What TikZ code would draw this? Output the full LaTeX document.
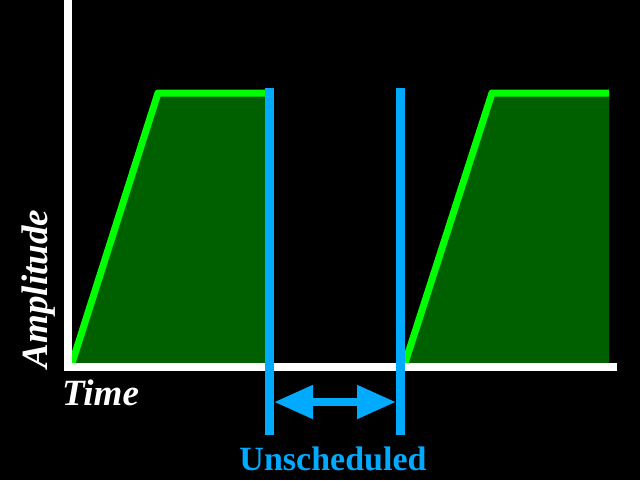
\documentclass[tikz,border=0pt]{standalone}
\usepackage{fontspec}
\setmainfont{Liberation Serif}
\usetikzlibrary{arrows.meta,positioning}

\definecolor{pulsegreen}{RGB}{0,255,0}
\definecolor{pulsefill}{RGB}{0,96,0}
\definecolor{gapblue}{RGB}{0,170,255}

\begin{document}
\begin{tikzpicture}[
		x=1pt, y=-1pt,
		axis/.style={draw=white, line width=8pt, line join=miter},
		pulse/.style={fill=pulsefill},
		edge/.style={draw=pulsegreen, line width=7pt, line join=round},
		marker/.style={draw=gapblue, line width=9pt},
		gaparrow/.style={draw=gapblue, line width=8pt, {Triangle[length=39pt,width=32pt]}-{Triangle[length=39pt,width=32pt]}},
		label/.style={text=white, font=\fontsize{37}{37}\selectfont\bfseries\itshape, inner sep=0pt},
	]
		\fill[black] (0,0) rectangle (640,480);
		\useasboundingbox (0,0) rectangle (640,480);

		\coordinate (top) at (67.5,0);
		\coordinate (origin) at (67.5,367);
		\coordinate (xend) at (617,367);

		% first pulse
		\coordinate (a0) at (72,363);
		\coordinate (a1) at (158,93);
		\coordinate (a2) at (269,93);
		\fill[pulse] (a0) -- (a1) -- (a2) -- (269,363) -- cycle;
		\draw[edge] (a0) -- (a1) -- (266,93);

		% second pulse
		\coordinate (b0) at (405,363);
		\coordinate (b1) at (492,93);
		\coordinate (b2) at (609,93);
		\fill[pulse] (b0) -- (b1) -- (b2) -- (609,363) -- cycle;
		\draw[edge] (b0) -- (b1) -- (b2);

		\draw[axis] (top) -- (origin) -- (xend);

		% gap markers
		\coordinate (gl top) at (269.5,88);
		\coordinate (gl bot) at (269.5,435);
		\coordinate (gr top) at (400.5,88);
		\coordinate (gr bot) at (400.5,435);
		\draw[marker] (gl top) -- (gl bot);
		\draw[marker] (gr top) -- (gr bot);
		\coordinate (arrL) at (274,402);
		\coordinate (arrR) at (396,402);
		\draw[gaparrow] (arrL) -- (arrR);

		\node[label, anchor=base west] (time) at (62,405) {Time};
		\node[label, anchor=base, rotate=90] (amp) at (47,289) {Amplitude};
		\node[label, anchor=base, text=gapblue, font=\fontsize{34}{34}\selectfont\bfseries] (unsched) at (333,470) {Unscheduled};
	\end{tikzpicture}
\end{document}
